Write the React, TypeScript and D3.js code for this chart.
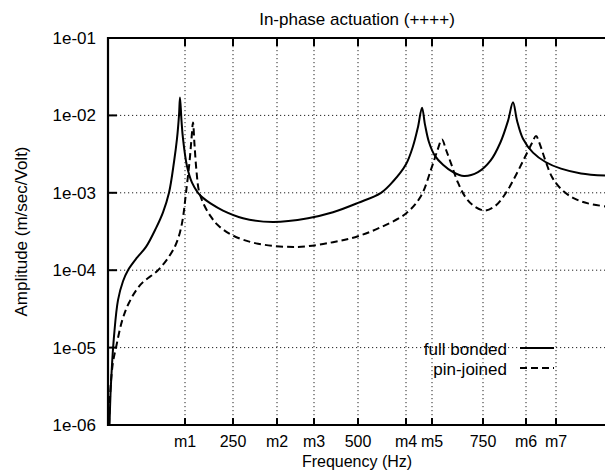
import React from "react";
import * as d3 from "d3";

const title = "In-phase actuation (++++)";
const xLabel = "Frequency (Hz)";
const yLabel = "Amplitude (m/sec/Volt)";

const xTickValues = [154, 250, 338, 412, 500, 596, 648, 750, 836, 896];
const xTickLabels = ["m1", "250", "m2", "m3", "500", "m4", "m5", "750", "m6", "m7"];
const yTickValues = [1e-6, 1e-5, 1e-4, 1e-3, 1e-2, 1e-1];
const yTickLabels = ["1e-06", "1e-05", "1e-04", "1e-03", "1e-02", "1e-01"];

const fullFreq = [3, 5, 8, 12, 20, 30, 40, 58, 76, 96, 110, 122, 132, 138, 142, 144, 147, 150, 158, 168, 180, 190, 205, 230, 270, 330, 400, 450, 500, 546, 570, 596, 610, 620, 628, 634, 642, 654, 670, 690, 712, 740, 765, 785, 800, 810, 818, 830, 850, 875, 906, 946, 1000];
const fullAmp = [1.0e-6, 2.5e-6, 6.0e-6, 1.4e-5, 4.1e-5, 7.2e-5, 1.0e-4, 1.45e-4, 2.0e-4, 3.5e-4, 5.6e-4, 1.0e-3, 2.5e-3, 5.0e-3, 1.0e-2, 1.7e-2, 8.5e-3, 5.0e-3, 2.2e-3, 1.35e-3, 1.0e-3, 8.6e-4, 7.3e-4, 5.9e-4, 4.7e-4, 4.2e-4, 4.7e-4, 5.6e-4, 7.4e-4, 1.0e-3, 1.4e-3, 2.34e-3, 4.0e-3, 7.1e-3, 1.26e-2, 7.6e-3, 4.5e-3, 3.0e-3, 2.3e-3, 1.85e-3, 1.65e-3, 1.85e-3, 2.6e-3, 4.5e-3, 8.5e-3, 1.48e-2, 8.6e-3, 5.0e-3, 3.3e-3, 2.5e-3, 2.05e-3, 1.78e-3, 1.66e-3];

const pinFreq = [2, 5, 10, 16, 28, 42, 65, 100, 122, 135, 144, 150, 156, 163, 167, 170, 173, 177, 182, 192, 205, 220, 250, 300, 380, 450, 500, 546, 596, 626, 646, 658, 668, 676, 686, 700, 716, 734, 754, 775, 796, 816, 834, 848, 856, 864, 874, 888, 906, 930, 960, 1000];
const pinAmp = [1.0e-6, 3.0e-6, 6.5e-6, 1.0e-5, 2.2e-5, 3.8e-5, 6.5e-5, 1.0e-4, 1.5e-4, 2.1e-4, 3.1e-4, 4.8e-4, 1.0e-3, 2.5e-3, 5.0e-3, 8.1e-3, 4.2e-3, 1.9e-3, 1.05e-3, 7.0e-4, 5.0e-4, 3.8e-4, 2.8e-4, 2.2e-4, 2.0e-4, 2.3e-4, 2.75e-4, 3.6e-4, 5.4e-4, 9.1e-4, 2.0e-3, 3.4e-3, 4.9e-3, 3.6e-3, 2.4e-3, 1.35e-3, 8.6e-4, 6.6e-4, 5.9e-4, 6.8e-4, 1.0e-3, 1.7e-3, 2.9e-3, 4.4e-3, 5.4e-3, 4.2e-3, 2.7e-3, 1.6e-3, 1.12e-3, 8.6e-4, 7.3e-4, 6.6e-4];

const seriesNames = ["full bonded", "pin-joined"];

const W = 605;
const H = 473;
const left = 108;
const right = 608;
const top = 38;
const bottom = 425;
const font = "'Liberation Sans', Arial, Helvetica, sans-serif";

export default function App() {
  const x = d3.scaleLinear().domain([0, 1000]).range([left, right]);
  const y = d3.scaleLog().domain([1e-6, 1e-1]).range([bottom, top]);
  const line = d3
    .line<[number, number]>()
    .x((d) => x(d[0]))
    .y((d) => y(d[1]))
    .curve(d3.curveCatmullRom.alpha(0.5));
  const fullPath = line(fullFreq.map((f, i) => [f, fullAmp[i]] as [number, number])) || "";
  const pinPath = line(pinFreq.map((f, i) => [f, pinAmp[i]] as [number, number])) || "";

  return (
    <svg
      width={W}
      height={H}
      style={{ position: "absolute", left: 0, top: 0, background: "#fff" }}
      fontFamily={font}
    >
      <defs>
        <clipPath id="plotclip">
          <rect x={left} y={top} width={W - left} height={bottom - top} />
        </clipPath>
      </defs>
      <rect x={0} y={0} width={W} height={H} fill="#fff" />
      <g stroke="#222" strokeWidth={1} strokeDasharray="1.2,2.8">
        {xTickValues.map((v, i) => (
          <line key={"gx" + i} x1={x(v)} x2={x(v)} y1={top} y2={bottom} />
        ))}
        {yTickValues.slice(1, -1).map((v, i) => (
          <line key={"gy" + i} x1={left} x2={W} y1={y(v)} y2={y(v)} />
        ))}
      </g>
      <g clipPath="url(#plotclip)" fill="none" stroke="#000" strokeWidth={2}>
        <path d={fullPath} />
        <path d={pinPath} strokeDasharray="7,4" />
      </g>
      <g stroke="#000" strokeWidth={2.2}>
        <line x1={left} x2={left} y1={top - 1} y2={bottom + 1} />
        <line x1={left - 1} x2={W} y1={bottom} y2={bottom} />
        <line x1={left - 1} x2={W} y1={top} y2={top} />
      </g>
      <g stroke="#000" strokeWidth={2}>
        {xTickValues.map((v, i) => (
          <g key={"tx" + i}>
            <line x1={x(v)} x2={x(v)} y1={bottom} y2={bottom - 7} />
            <line x1={x(v)} x2={x(v)} y1={top} y2={top + 8} />
          </g>
        ))}
        {yTickValues.map((v, i) => (
          <line key={"ty" + i} x1={left} x2={left + 9} y1={y(v)} y2={y(v)} />
        ))}
      </g>
      <g fill="#000">
        {yTickValues.map((v, i) => (
          <text key={"ly" + i} x={96} y={y(v)} dy="0.35em" textAnchor="end" fontSize={17}>
            {yTickLabels[i]}
          </text>
        ))}
        {xTickValues.map((v, i) => (
          <text key={"lx" + i} x={x(v)} y={447} textAnchor="middle" fontSize={16}>
            {xTickLabels[i]}
          </text>
        ))}
      </g>
      <text x={357} y={25} textAnchor="middle" fontSize={17}>
        {title}
      </text>
      <text x={357} y={467} textAnchor="middle" fontSize={16}>
        {xLabel}
      </text>
      <text
        transform={`translate(27,${(top + bottom) / 2}) rotate(-90)`}
        textAnchor="middle"
        fontSize={17}
      >
        {yLabel}
      </text>
      <g fontSize={17}>
        <text x={507} y={349} dy="0.35em" textAnchor="end">
          {seriesNames[0]}
        </text>
        <text x={507} y={369} dy="0.35em" textAnchor="end">
          {seriesNames[1]}
        </text>
        <line x1={520} x2={554} y1={348} y2={348} stroke="#000" strokeWidth={2} />
        <line x1={520} x2={554} y1={368} y2={368} stroke="#000" strokeWidth={2} strokeDasharray="7,4" />
      </g>
    </svg>
  );
}
